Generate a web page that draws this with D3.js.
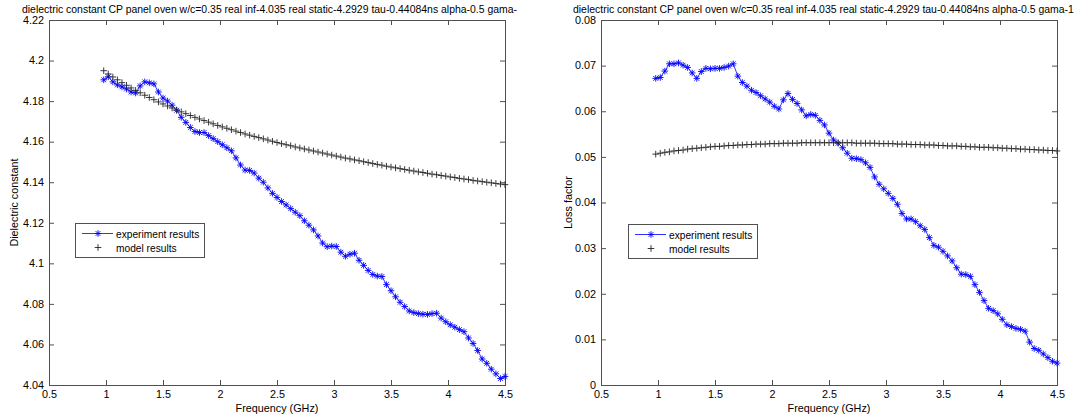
<!DOCTYPE html>
<html>
<head>
<meta charset="utf-8">
<script src="https://cdn.jsdelivr.net/npm/d3@7"></script>
<style>
  html, body { margin: 0; padding: 0; background: #fff; }
  svg { display: block; font-family: "Liberation Sans", Arial, sans-serif; }
</style>
</head>
<body>
<svg id="chart" width="1088" height="420"></svg>
<script>
// ---------------- DATA ----------------
const freqGHz = [0.98,1.02,1.06,1.10,1.14,1.18,1.22,1.26,1.30,1.34,1.38,1.42,1.46,1.50,1.54,1.58,1.62,1.66,1.70,1.74,
  1.78,1.82,1.86,1.90,1.94,1.98,2.02,2.06,2.10,2.14,2.18,2.22,2.26,2.30,2.34,2.38,2.42,2.46,2.50,2.54,
  2.58,2.62,2.66,2.70,2.74,2.78,2.82,2.86,2.90,2.94,2.98,3.02,3.06,3.10,3.14,3.18,3.22,3.26,3.30,3.34,
  3.38,3.42,3.46,3.50,3.54,3.58,3.62,3.66,3.70,3.74,3.78,3.82,3.86,3.90,3.94,3.98,4.02,4.06,4.10,4.14,
  4.18,4.22,4.26,4.30,4.34,4.38,4.42,4.46,4.50];

const dielectricExperiment = [4.1905,4.1920,4.1895,4.1880,4.1870,4.1860,4.1845,4.1840,4.1875,4.1895,
  4.1890,4.1885,4.1845,4.1815,4.1800,4.1780,4.1755,4.1720,4.1695,4.1670,
  4.1650,4.1645,4.1645,4.1630,4.1615,4.1600,4.1585,4.1570,4.1555,4.1520,
  4.1485,4.1460,4.1458,4.1445,4.1420,4.1400,4.1372,4.1345,4.1325,4.1305,
  4.1288,4.1270,4.1252,4.1235,4.1210,4.1188,4.1165,4.1135,4.1100,4.1082,
  4.1085,4.1083,4.1055,4.1035,4.1045,4.1050,4.1015,4.0990,4.0965,4.0945,
  4.0937,4.0935,4.0895,4.0865,4.0835,4.0808,4.0787,4.0765,4.0757,4.0752,
  4.0749,4.0748,4.0752,4.0754,4.0730,4.0712,4.0697,4.0685,4.0673,4.0663,
  4.0632,4.0605,4.0570,4.0528,4.0507,4.0478,4.0455,4.0432,4.0442];

const dielectricModel = [4.1950,4.1934,4.1919,4.1905,4.1891,4.1878,4.1865,4.1853,4.1841,4.1829,
  4.1818,4.1807,4.1796,4.1786,4.1776,4.1766,4.1756,4.1747,4.1738,4.1729,
  4.1720,4.1712,4.1704,4.1696,4.1688,4.1680,4.1673,4.1666,4.1659,4.1652,
  4.1645,4.1638,4.1632,4.1626,4.1620,4.1614,4.1608,4.1602,4.1596,4.1590,
  4.1585,4.1580,4.1574,4.1569,4.1564,4.1559,4.1554,4.1549,4.1544,4.1539,
  4.1534,4.1529,4.1524,4.1519,4.1515,4.1510,4.1506,4.1501,4.1497,4.1492,
  4.1488,4.1484,4.1479,4.1475,4.1471,4.1467,4.1463,4.1459,4.1455,4.1451,
  4.1448,4.1444,4.1440,4.1437,4.1433,4.1430,4.1426,4.1423,4.1419,4.1416,
  4.1413,4.1409,4.1406,4.1403,4.1400,4.1397,4.1394,4.1391,4.1388];

const lossExperiment = [0.0672,0.0674,0.0688,0.0704,0.0704,0.0706,0.0701,0.0696,0.0684,0.0672,
  0.0687,0.0694,0.0693,0.0694,0.0694,0.0696,0.0699,0.0704,0.0677,0.0663,
  0.0655,0.0646,0.0641,0.0634,0.0627,0.0620,0.0611,0.0605,0.0625,0.0639,
  0.0626,0.0617,0.0603,0.0590,0.0593,0.0591,0.0580,0.0570,0.0552,0.0537,
  0.0530,0.0520,0.0508,0.0497,0.0496,0.0494,0.0487,0.0477,0.0456,0.0440,
  0.0430,0.0420,0.0409,0.0396,0.0376,0.0364,0.0364,0.0358,0.0349,0.0341,
  0.0323,0.0306,0.0302,0.0293,0.0283,0.0272,0.0257,0.0243,0.0242,0.0238,
  0.0220,0.0203,0.0185,0.0168,0.0163,0.0156,0.0144,0.0132,0.0128,0.0124,
  0.0122,0.0118,0.0094,0.0080,0.0076,0.0068,0.0060,0.0052,0.0048];

const lossModel = [0.0506,0.0508,0.0510,0.0511,0.0513,0.0514,0.0515,0.0517,0.0518,0.0519,
  0.0520,0.0521,0.0522,0.0523,0.0523,0.0524,0.0525,0.0525,0.0526,0.0526,
  0.0527,0.0527,0.0528,0.0528,0.0528,0.0529,0.0529,0.0529,0.0530,0.0530,
  0.0530,0.0530,0.0531,0.0531,0.0531,0.0531,0.0531,0.0531,0.0531,0.0531,
  0.0531,0.0531,0.0531,0.0531,0.0530,0.0530,0.0530,0.0530,0.0530,0.0529,
  0.0529,0.0529,0.0529,0.0528,0.0528,0.0528,0.0527,0.0527,0.0527,0.0526,
  0.0526,0.0526,0.0525,0.0525,0.0524,0.0524,0.0524,0.0523,0.0523,0.0522,
  0.0522,0.0521,0.0521,0.0521,0.0520,0.0520,0.0519,0.0519,0.0518,0.0518,
  0.0517,0.0517,0.0516,0.0516,0.0515,0.0515,0.0514,0.0514,0.0513];

const freqTicks = [0.5, 1, 1.5, 2, 2.5, 3, 3.5, 4, 4.5];
const freqTickLabels = ["0.5","1","1.5","2","2.5","3","3.5","4","4.5"];
const dielectricTicks = [4.04, 4.06, 4.08, 4.10, 4.12, 4.14, 4.16, 4.18, 4.20, 4.22];
const dielectricTickLabels = ["4.04","4.06","4.08","4.1","4.12","4.14","4.16","4.18","4.2","4.22"];
const lossTicks = [0, 0.01, 0.02, 0.03, 0.04, 0.05, 0.06, 0.07, 0.08];
const lossTickLabels = ["0","0.01","0.02","0.03","0.04","0.05","0.06","0.07","0.08"];

const titleLeft = "dielectric constant CP panel oven w/c=0.35 real inf-4.035 real static-4.2929 tau-0.44084ns alpha-0.5 gama-";
const titleRight = "dielectric constant CP panel oven w/c=0.35 real inf-4.035 real static-4.2929 tau-0.44084ns alpha-0.5 gama-1";
const legendLabels = ["experiment results", "model results"];
const xLabel = "Frequency (GHz)";

// ---------------- DRAWING ----------------
const svg = d3.select("#chart");
svg.append("rect").attr("width", 1088).attr("height", 420).attr("fill", "#fff");

const AX = "#505050";
const BLUE = "#0000ff";
const FS = 10.8;

const panels = [
  { left: 49, right: 505, top: 20, bottom: 385, yDomain: [4.04, 4.22],
    yTicks: dielectricTicks, yTickLabels: dielectricTickLabels, yLabel: "Dielectric constant",
    exp: dielectricExperiment, model: dielectricModel, title: titleLeft, titleX: 22,
    yLabelX: 17.5, legend: { x: 75, y: 223, w: 129, h: 34 } },
  { left: 601, right: 1057, top: 20, bottom: 385, yDomain: [0, 0.08],
    yTicks: lossTicks, yTickLabels: lossTickLabels, yLabel: "Loss factor",
    exp: lossExperiment, model: lossModel, title: titleRight, titleX: 573,
    yLabelX: 571.5, legend: { x: 628, y: 224, w: 129, h: 34 } }
];

function starPath(r) {
  const d = r * 0.72;
  return `M${-r},0L${r},0M0,${-r}L0,${r}M${-d},${-d}L${d},${d}M${-d},${d}L${d},${-d}`;
}
function plusPath(r) {
  return `M${-r},0L${r},0M0,${-r}L0,${r}`;
}

panels.forEach(p => {
  const x = d3.scaleLinear().domain([0.5, 4.5]).range([p.left, p.right]);
  const y = d3.scaleLinear().domain(p.yDomain).range([p.bottom, p.top]);
  const g = svg.append("g");
  const w = p.right - p.left, h = p.bottom - p.top;

  // Title
  g.append("text").attr("x", p.titleX).attr("y", 12.5)
    .attr("font-size", 10.45).attr("fill", "#000").text(p.title);

  // Axes with inward ticks (box style)
  const tickLen = 5;
  const xb = d3.axisBottom(x).tickValues(freqTicks).tickSize(-tickLen).tickSizeOuter(0)
    .tickFormat((d, i) => freqTickLabels[i]).tickPadding(7);
  const gx = g.append("g").attr("transform", `translate(0,${p.bottom})`).call(xb);
  const xt = d3.axisTop(x).tickValues(freqTicks).tickSize(-tickLen).tickSizeOuter(0).tickFormat("");
  const gxt = g.append("g").attr("transform", `translate(0,${p.top})`).call(xt);
  const yl = d3.axisLeft(y).tickValues(p.yTicks).tickSize(-tickLen).tickSizeOuter(0)
    .tickFormat((d, i) => p.yTickLabels[i]).tickPadding(5);
  const gy = g.append("g").attr("transform", `translate(${p.left},0)`).call(yl);
  const yr = d3.axisRight(y).tickValues(p.yTicks).tickSize(-tickLen).tickSizeOuter(0).tickFormat("");
  const gyr = g.append("g").attr("transform", `translate(${p.right},0)`).call(yr);
  [gx, gxt, gy, gyr].forEach(a => {
    a.select(".domain").remove();
    a.selectAll("line").attr("stroke", AX);
    a.selectAll("text").attr("font-size", FS).attr("fill", "#000")
      .attr("font-family", "Liberation Sans, Arial, sans-serif");
  });
  gx.selectAll("text").attr("dy", "0.55em");
  gy.selectAll("text").attr("dy", "0.3em");

  // Box
  g.append("rect").attr("x", p.left + 0.5).attr("y", p.top + 0.5)
    .attr("width", w).attr("height", h)
    .attr("fill", "none").attr("stroke", AX).attr("stroke-width", 1);

  // Axis labels
  g.append("text").attr("x", (p.left + p.right) / 2).attr("y", 412)
    .attr("text-anchor", "middle").attr("font-size", FS).text(xLabel);
  g.append("text").attr("transform", `translate(${p.yLabelX},${(p.top + p.bottom) / 2}) rotate(-90)`)
    .attr("text-anchor", "middle").attr("font-size", FS).text(p.yLabel);

  // Experiment line + star markers
  const line = d3.line().x((d, i) => x(freqGHz[i])).y(d => y(d));
  g.append("path").datum(p.exp).attr("d", line)
    .attr("fill", "none").attr("stroke", BLUE).attr("stroke-width", 0.8);
  g.selectAll(".star").data(p.exp).join("path").attr("class", "star")
    .attr("transform", (d, i) => `translate(${x(freqGHz[i])},${y(d)})`)
    .attr("d", starPath(3.3)).attr("stroke", BLUE).attr("stroke-width", 0.9).attr("fill", "none");

  // Model plus markers
  g.selectAll(".plus").data(p.model).join("path").attr("class", "plus")
    .attr("transform", (d, i) => `translate(${x(freqGHz[i])},${y(d)})`)
    .attr("d", plusPath(3.3)).attr("stroke", "#222").attr("stroke-width", 0.9).attr("fill", "none");

  // Legend
  const L = p.legend;
  const lg = g.append("g");
  lg.append("rect").attr("x", L.x + 0.5).attr("y", L.y + 0.5).attr("width", L.w).attr("height", L.h)
    .attr("fill", "#fff").attr("stroke", AX);
  const r1 = L.y + 10.5, r2 = L.y + 24.5;
  lg.append("line").attr("x1", L.x + 7).attr("x2", L.x + 38).attr("y1", r1).attr("y2", r1)
    .attr("stroke", BLUE).attr("stroke-width", 0.8);
  lg.append("path").attr("transform", `translate(${L.x + 23},${r1})`).attr("d", starPath(3.3))
    .attr("stroke", BLUE).attr("stroke-width", 0.9).attr("fill", "none");
  lg.append("path").attr("transform", `translate(${L.x + 23},${r2})`).attr("d", plusPath(3.3))
    .attr("stroke", "#222").attr("stroke-width", 0.9).attr("fill", "none");
  lg.append("text").attr("x", L.x + 41).attr("y", r1 + 4).attr("font-size", 10.2).text(legendLabels[0]);
  lg.append("text").attr("x", L.x + 41).attr("y", r2 + 4).attr("font-size", 10.2).text(legendLabels[1]);
});
</script>
</body>
</html>
